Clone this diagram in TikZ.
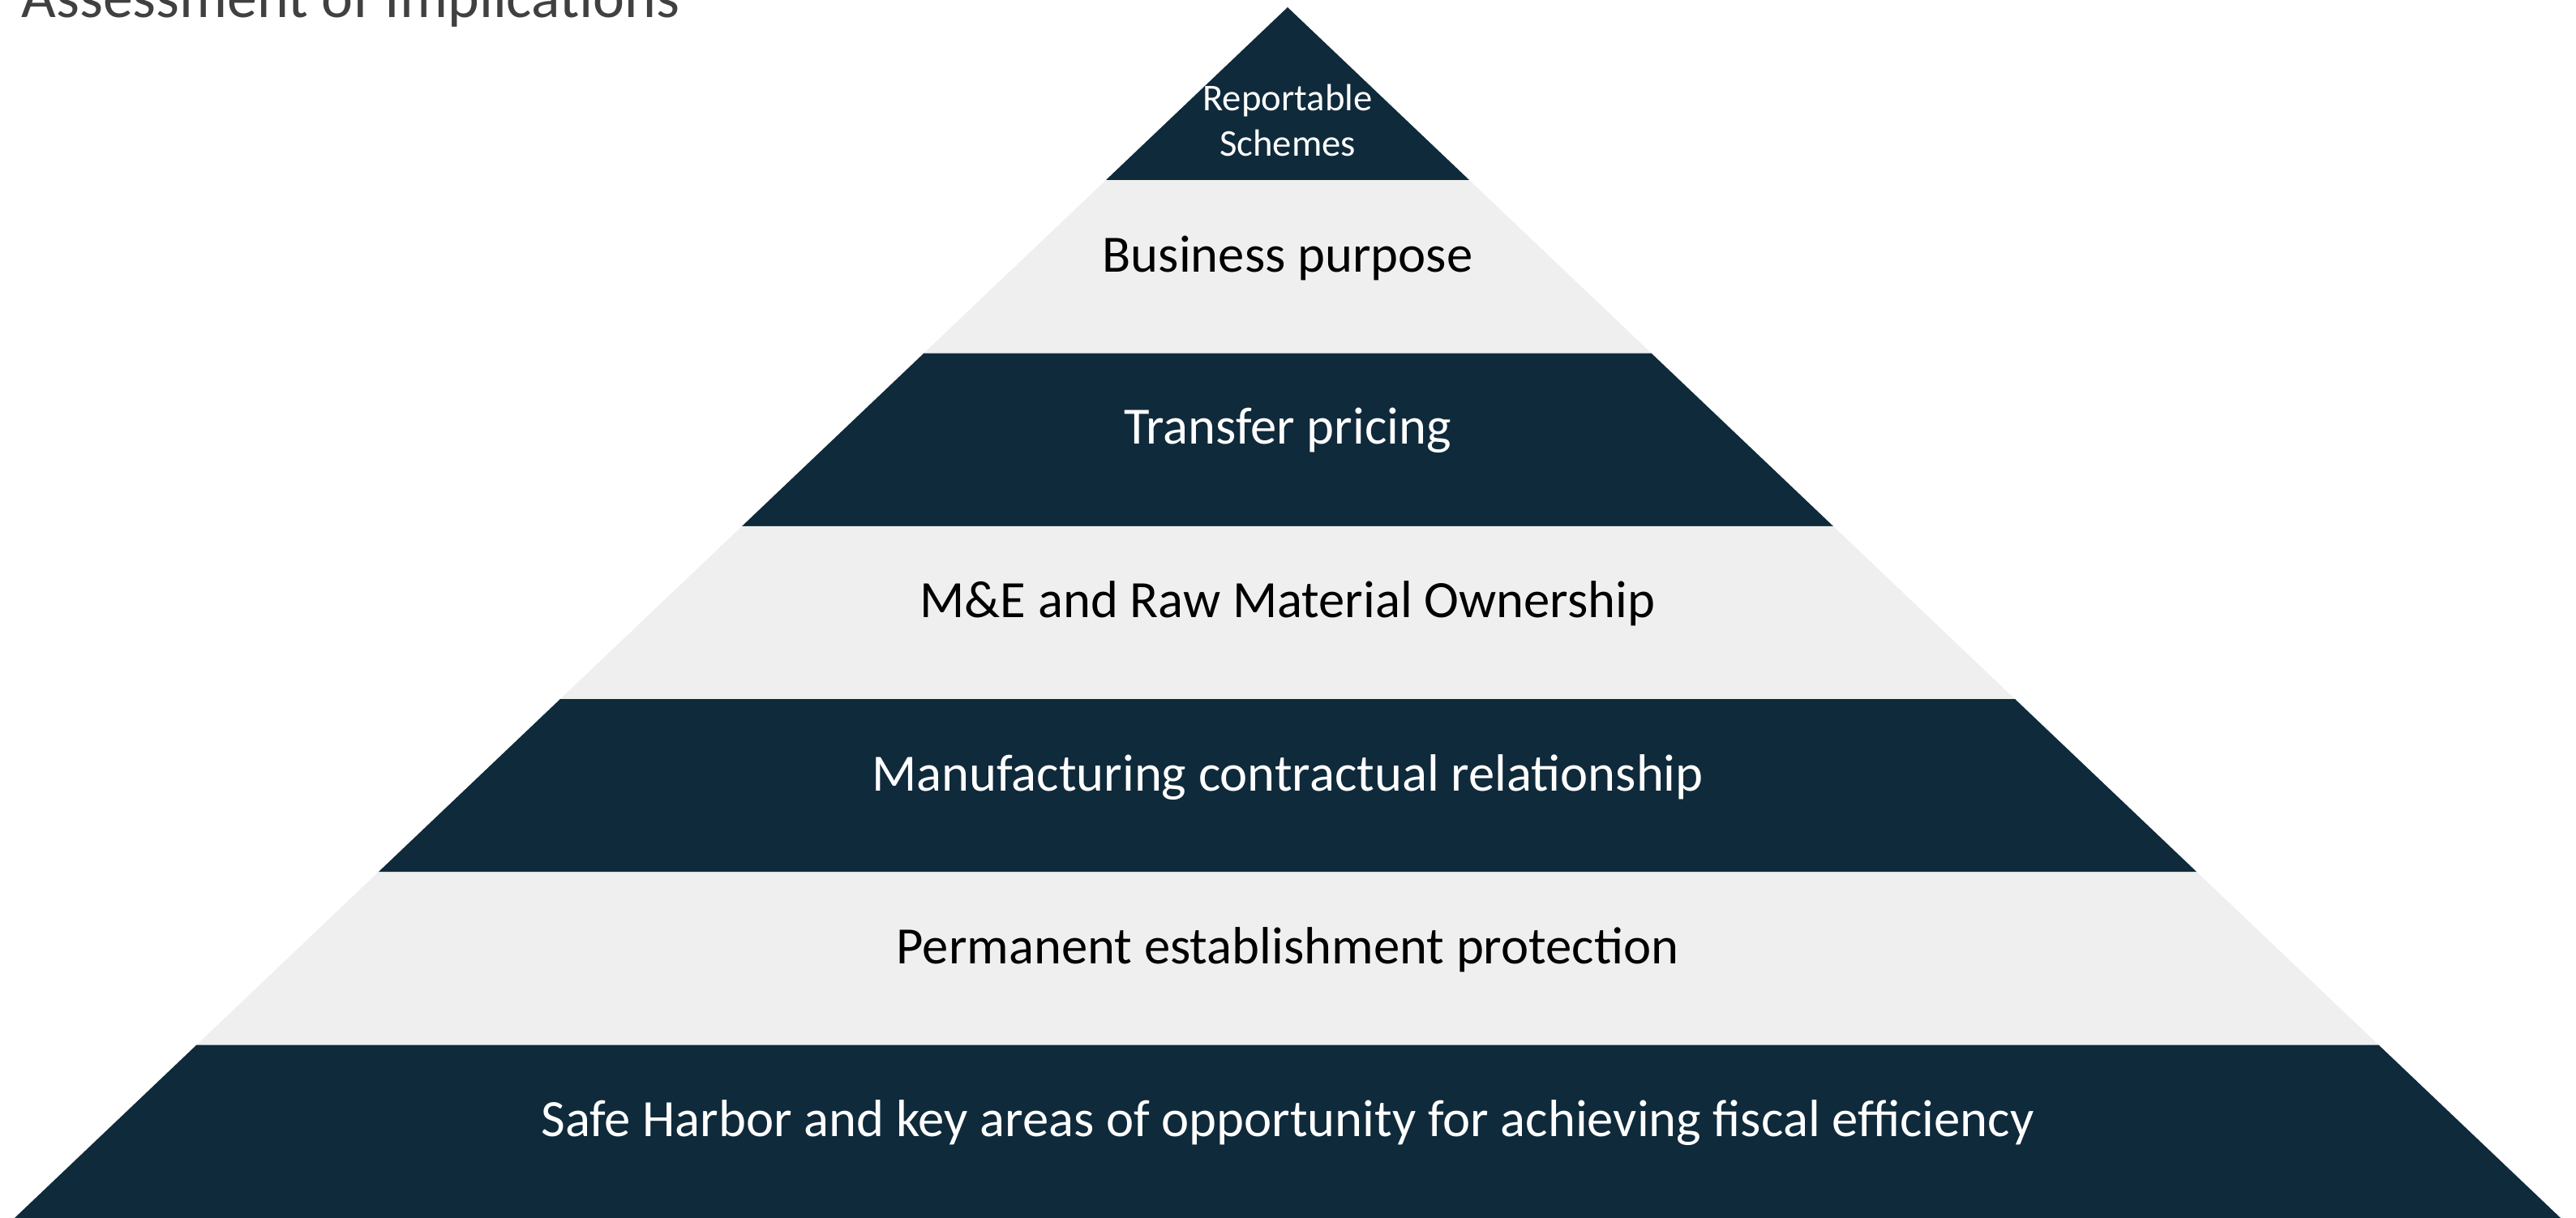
\documentclass[tikz,border=0pt]{standalone}
\usepackage{fontspec}
\setmainfont{Carlito}
\usetikzlibrary{calc,positioning}
\definecolor{navy}{HTML}{0F2A3B}
\definecolor{band}{HTML}{EFEFEF}
\definecolor{titlegrey}{HTML}{404040}

\begin{document}
\begin{tikzpicture}[
dark/.style={fill=navy,draw=none},
light/.style={fill=band,draw=none},
onDark/.style={text=white,font=\fontsize{18.4}{22}\selectfont,anchor=base,inner sep=0pt},
onLight/.style={text=black,font=\fontsize{18.4}{22}\selectfont,anchor=base,inner sep=0pt}]
\useasboundingbox (0,0) rectangle (31.77,15.02);
\coordinate (Top) at (15.88,14.93);
\coordinate (BL) at (0.18,0);
\coordinate (BR) at (31.58,0);

% seven bands of the pyramid
\foreach \k/\sty in {0/dark,1/light,2/dark,3/light,4/dark,5/light,6/dark}{
  \pgfmathsetmacro{\a}{\k/7}
  \pgfmathsetmacro{\b}{(\k+1)/7}
  \fill[\sty] ($(Top)!\a!(BL)$) -- ($(Top)!\b!(BL)$) -- ($(Top)!\b!(BR)$) -- ($(Top)!\a!(BR)$) -- cycle;
}

\node[anchor=base west,inner sep=0pt,text=titlegrey,font=\fontsize{21}{25}\selectfont] (T) at (0.26,14.80) {Assessment of Implications};

\node[text=white,font=\fontsize{13.3}{16}\selectfont,align=center,anchor=base,inner sep=0pt] (RS) at (15.88,13.09) {Reportable\\Schemes};
\node[onLight] (BP) at (15.88,11.665) {Business purpose};
\node[onDark] (TP) at (15.88,9.54) {Transfer pricing};
\node[onLight] (ME) at (15.88,7.40) {M\&E and Raw Material Ownership};
\node[onDark] (MC) at (15.88,5.267) {Manufacturing contractual relationship};
\node[onLight] (PE) at (15.88,3.134) {Permanent establishment protection};
\node[onDark] (SH) at (15.88,1.00) {Safe Harbor and key areas of opportunity for achieving fiscal efficiency};
\end{tikzpicture}
\end{document}
